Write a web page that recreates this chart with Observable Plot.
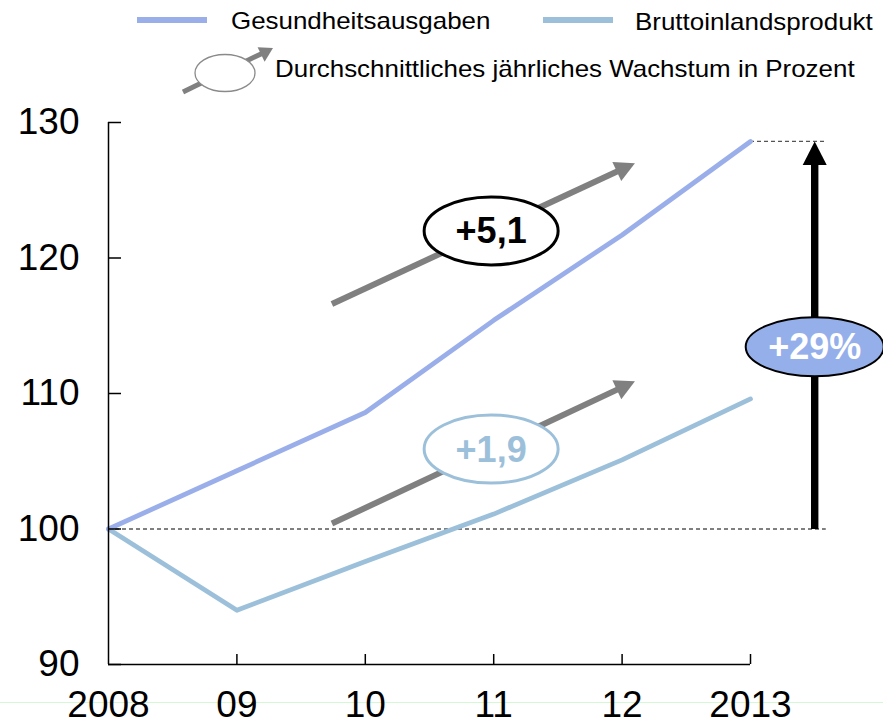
<!DOCTYPE html>
<html><head><meta charset="utf-8">
<script src="https://cdn.jsdelivr.net/npm/d3@7"></script>
<script src="https://cdn.jsdelivr.net/npm/@observablehq/plot@0.6"></script>
<style>
body{margin:0;background:#fff;font-family:"Liberation Sans",Arial,sans-serif;}
#wrap{position:relative;width:883px;height:723px;overflow:hidden;background:#fff}
#greenline{position:absolute;left:0;top:702px;width:883px;height:1px;background:#d4f7d4}
#legend{position:absolute;left:0;top:0;width:883px;height:100px}
#chart{position:absolute;left:0;top:100px}
.lt{position:absolute;font-size:24px;white-space:nowrap;transform:scaleX(1.08);transform-origin:0 0;line-height:1;color:#000}
.sw{position:absolute;height:6px}
</style></head>
<body><div id="wrap"><div id="greenline"></div><div id="legend"></div><div id="chart"></div></div>
<script>
// ---- data ----
const years = [2008, 2009, 2010, 2011, 2012, 2013];
const yearLabels = ["2008", "09", "10", "11", "12", "2013"];
const health = [100, 104.3, 108.6, 115.4, 121.7, 128.6];
const gdp = [100, 94.0, 97.6, 101.1, 105.1, 109.6];
const yTicks = [90, 100, 110, 120, 130];
const seriesNames = ["Gesundheitsausgaben", "Bruttoinlandsprodukt"];
const seriesColors = ["#9AAEEA", "#9DC0DA"];
const legendNote = "Durchschnittliches jährliches Wachstum in Prozent";
const growthLabels = ["+5,1", "+1,9"];
const growthFrom = [[2009.74, 116.6], [2009.74, 100.4]];
const growthTo = [[2012.10, 127.0], [2012.10, 110.9]];
const growthLabelAt = [[2010.98, 122.0], [2010.98, 105.9]];
const totalLabel = "+29%";
const totalArrowX = 2013.5;
const totalLabelY = 113.45;
const refEndX = 2013.59;

// ---- legend (HTML) ----
const legend = document.getElementById("legend");
legend.innerHTML = `
<div class="sw" style="left:137px;top:17px;width:70px;background:${seriesColors[0]}"></div>
<div class="lt" style="left:230.5px;top:8.5px">${seriesNames[0]}</div>
<div class="sw" style="left:543px;top:17px;width:70px;background:${seriesColors[1]}"></div>
<div class="lt" style="left:634.5px;top:9.5px">${seriesNames[1]}</div>
<div class="lt" style="left:274.5px;top:57px">${legendNote}</div>
<svg width="883" height="100" style="position:absolute;left:0;top:0">
  <line x1="183" y1="92" x2="262" y2="53.4" stroke="#808080" stroke-width="5"/>
  <path d="M273,48 L257.6,47.3 L264.6,61.7 Z" fill="#808080"/>
  <ellipse cx="225" cy="73" rx="30" ry="18.5" fill="#fff" stroke="#8a8a8a" stroke-width="1.3"/>
</svg>`;

// ---- chart ----
const W = 883, H = 623;
const mL = 108, mR = 133, mT = 22, mB = 59;
const xS = d3.scaleLinear([2008, 2013], [mL, W - mR]);
const yS = d3.scaleLinear([90, 130], [H - mB, mT]);

const rows = years.map((year, i) => ({year, health: health[i], gdp: gdp[i]}));
const growth = growthLabels.map((label, i) => ({
  label,
  x1: growthFrom[i][0], y1: growthFrom[i][1],
  x2: growthTo[i][0], y2: growthTo[i][1],
  cx: growthLabelAt[i][0], cy: growthLabelAt[i][1],
  rot: Math.atan2(yS(growthTo[i][1]) - yS(growthFrom[i][1]), xS(growthTo[i][0]) - xS(growthFrom[i][0])) * 180 / Math.PI + 90
}));
const total = [{x: totalArrowX, y1: health[0], y2: health[health.length - 1], ly: totalLabelY, label: totalLabel}];

const K = 0.5522847;
function ellipseSymbol(ratio) {
  return {draw(ctx, size) {
    const ry = Math.sqrt(size / Math.PI), rx = ry * ratio, kx = rx * K, ky = ry * K;
    ctx.moveTo(rx, 0);
    ctx.bezierCurveTo(rx, ky, kx, ry, 0, ry);
    ctx.bezierCurveTo(-kx, ry, -rx, ky, -rx, 0);
    ctx.bezierCurveTo(-rx, -ky, -kx, -ry, 0, -ry);
    ctx.bezierCurveTo(kx, -ry, rx, -ky, rx, 0);
    ctx.closePath();
  }};
}
function headSymbol(len, width) {
  return {draw(ctx) {
    ctx.moveTo(0, 0); ctx.lineTo(-width / 2, len); ctx.lineTo(width / 2, len); ctx.closePath();
  }};
}
const font = '"Liberation Sans", Arial, sans-serif';

const plot = Plot.plot({
  width: W, height: H,
  marginLeft: mL, marginRight: mR, marginTop: mT, marginBottom: mB,
  x: {domain: [2008, 2013]},
  y: {domain: [90, 130]},
  style: {fontFamily: font, background: "transparent", overflow: "visible", color: "#000"},
  marks: [
    // reference dashed lines
    Plot.ruleY([health[0]], {x1: years[0], x2: refEndX, stroke: "#000", strokeWidth: 1, strokeDasharray: "4,3"}),
    Plot.ruleY([health[health.length - 1]], {x1: years[years.length - 1], x2: refEndX, stroke: "#555", strokeWidth: 1.2, strokeDasharray: "4,3"}),
    // series
    Plot.line(rows, {x: "year", y: "gdp", stroke: seriesColors[1], strokeWidth: 4.8, strokeLinecap: "round", strokeLinejoin: "round"}),
    Plot.line(rows, {x: "year", y: "health", stroke: seriesColors[0], strokeWidth: 4.8, strokeLinecap: "round", strokeLinejoin: "round"}),
    // axes
    Plot.ruleX([years[0]], {y1: yTicks[0], y2: yTicks[yTicks.length - 1], stroke: "#000", strokeWidth: 1.5}),
    Plot.ruleY([yTicks[0]], {x1: years[0], x2: years[years.length - 1], stroke: "#000", strokeWidth: 1.5}),
    Plot.axisY({ticks: yTicks, tickSize: -13, tickFormat: () => "", label: null, strokeWidth: 1.5}),
    Plot.axisY({ticks: yTicks, tickSize: 0, tickPadding: 29, fontSize: 37, label: null, tickFormat: d => String(d)}),
    Plot.axisX({ticks: years.slice(1), tickSize: -10, tickFormat: () => "", label: null, strokeWidth: 1.5}),
    Plot.axisX({ticks: years, tickSize: 0, tickPadding: 26, fontSize: 37, label: null, tickFormat: d => yearLabels[years.indexOf(d)]}),
    // growth arrows
    Plot.arrow(growth, {x1: "x1", y1: "y1", x2: "x2", y2: "y2", stroke: "#808080", strokeWidth: 6, headLength: 0, insetEnd: 12, strokeLinecap: "butt"}),
    Plot.dot(growth, {x: "x2", y: "y2", symbol: headSymbol(20, 21), rotate: "rot", fill: "#808080", stroke: "none"}),
    Plot.dot(growth.slice(0, 1), {x: "cx", y: "cy", r: 34, symbol: ellipseSymbol(67 / 34), fill: "#fff", stroke: "#000", strokeWidth: 3}),
    Plot.dot(growth.slice(1, 2), {x: "cx", y: "cy", r: 34, symbol: ellipseSymbol(67 / 34), fill: "#fff", stroke: seriesColors[1], strokeWidth: 3}),
    Plot.text(growth.slice(0, 1), {x: "cx", y: "cy", text: "label", fontSize: 36, fontWeight: "bold", fill: "#000", dy: 1}),
    Plot.text(growth.slice(1, 2), {x: "cx", y: "cy", text: "label", fontSize: 36, fontWeight: "bold", fill: seriesColors[1], dy: 1}),
    // total growth arrow
    Plot.arrow(total, {x1: "x", y1: "y1", x2: "x", y2: "y2", stroke: "#000", strokeWidth: 7.4, headLength: 0, insetEnd: 18, strokeLinecap: "butt"}),
    Plot.dot(total, {x: "x", y: "y2", symbol: headSymbol(23.5, 24), fill: "#000", stroke: "none"}),
    Plot.dot(total, {x: "x", y: "ly", r: 29.5, symbol: ellipseSymbol(69 / 29.5), fill: "#95AFEA", stroke: "#000", strokeWidth: 2}),
    Plot.text(total, {x: "x", y: "ly", text: "label", fontSize: 36, fontWeight: "bold", fill: "#fff", dy: 1})
  ]
});
document.getElementById("chart").appendChild(plot);
</script>
</body></html>
